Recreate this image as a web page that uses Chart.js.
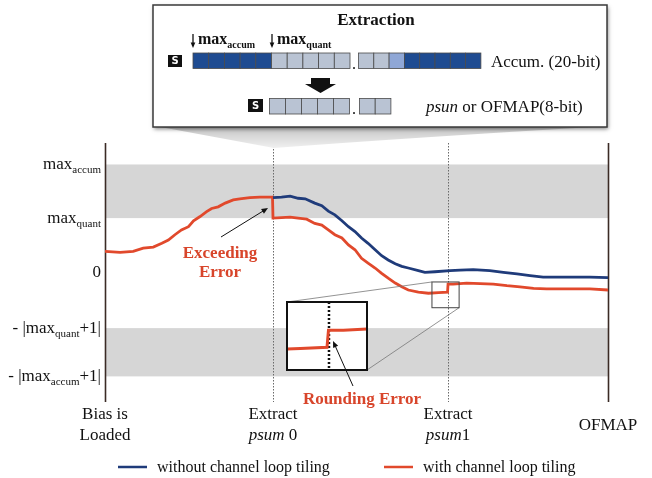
<!DOCTYPE html>
<html lang="en">
<head>
<meta charset="UTF-8">
<title>Accumulator extraction</title>
<script src="https://cdn.jsdelivr.net/npm/chart.js"></script>
<style>
  html, body { margin: 0; padding: 0; background: #fff; }
</style>
</head>
<body>
<canvas id="chart" width="652" height="478"></canvas>
<script>
// values (x: time 0..100, y: value level)
const redX = [0, 3.0, 5.6, 7.6, 9.6, 11.3, 12.6, 13.9, 15.2, 16.6, 17.6, 18.9, 20.2, 21.2, 22.5, 23.9, 25.5, 26.8, 28.8, 30.8,
              33.3, 33.4, 35.1, 36.8, 38.4, 40.1, 41.7, 43.1, 44.4, 45.7, 47.1, 48.4, 49.7, 51.0, 52.3, 53.7, 55.0, 56.3, 57.7, 59.0,
              60.3, 62.3, 64.3, 66.3, 68.1, 68.2, 69.2, 71.9, 74.6, 77.2, 79.9, 82.5, 85.2, 87.8, 90.5, 93.1, 96.4, 100];
const redY = [0.38, 0.36, 0.38, 0.44, 0.46, 0.53, 0.59, 0.69, 0.78, 0.84, 0.95, 1.03, 1.12, 1.18, 1.21, 1.28, 1.34, 1.36, 1.38, 1.39,
              1.39, 1.00, 1.01, 1.02, 1.00, 0.98, 0.90, 0.87, 0.78, 0.69, 0.63, 0.50, 0.41, 0.25, 0.16, 0.07, -0.03, -0.12, -0.21, -0.28,
              -0.34, -0.38, -0.40, -0.39, -0.38, -0.23, -0.23, -0.21, -0.22, -0.23, -0.26, -0.28, -0.31, -0.32, -0.32, -0.32, -0.32, -0.34];
const blueX = [33.4, 35.1, 36.8, 38.4, 39.8, 41.7, 43.1, 44.4, 45.7, 47.1, 48.4, 49.7, 51.0, 52.3, 53.7, 55.0, 56.3, 57.7,
               59.0, 60.3, 62.3, 63.6, 65.6, 68.6, 70.6, 73.2, 76.5, 79.2, 81.9, 84.5, 87.1, 89.8, 93.1, 96.4, 100];
const blueY = [1.38, 1.39, 1.41, 1.37, 1.36, 1.28, 1.23, 1.13, 1.06, 0.95, 0.84, 0.75, 0.63, 0.53, 0.41, 0.30, 0.22, 0.15,
               0.10, 0.07, 0.02, -0.01, 0.00, 0.02, 0.03, 0.04, 0.02, -0.01, -0.04, -0.07, -0.10, -0.10, -0.10, -0.10, -0.11];

const yTickValues = [2.0, 1.0, 0, -1.05, -1.95];
const yTickLabels = ['max_{accum}', 'max_{quant}', '0', '- |max_{quant}+1|', '- |max_{accum}+1|'];
const bands = [[1.0, 2.0], [-1.95, -1.05]];

const eventX = [0, 33.4, 68.2, 100];
const eventLabels = [['Bias is', 'Loaded'], ['Extract', '*psum* 0'], ['Extract', '*psum*1'], ['OFMAP']];

const zoomBox = [65.0, 70.4, -0.19, -0.67];     // region magnified in the inset
const insetWindow = [65.4, 70.8, 0.02, -0.58];   // what the inset shows

const SERIF = '"Liberation Serif", "Times New Roman", serif';
const RED = '#e1492c', BLUE = '#1f3b7a', RED_TEXT = '#d8452b';

function parts(s) {
    const out = [];
    const re = /_\{([^}]*)\}|\*([^*]*)\*|([^_*]+)/g;
    let m;
    while ((m = re.exec(s))) {
        if (m[1] !== undefined) out.push({ t: m[1], sub: true });
        else if (m[2] !== undefined) out.push({ t: m[2], it: true });
        else out.push({ t: m[3] });
    }
    return out;
}

function rich(ctx, s, x, y, align, size, bold) {
    const segs = parts(s);
    const fontFor = seg => (seg.it ? 'italic ' : '') + (bold ? 'bold ' : '') +
        (seg.sub ? Math.round(size * 0.64) : size) + 'px ' + SERIF;
    let w = 0;
    segs.forEach(seg => { ctx.font = fontFor(seg); seg.w = ctx.measureText(seg.t).width; w += seg.w; });
    let cx = align === 'right' ? x - w : align === 'center' ? x - w / 2 : x;
    ctx.textAlign = 'left';
    ctx.textBaseline = 'alphabetic';
    segs.forEach(seg => {
        ctx.font = fontFor(seg);
        ctx.fillText(seg.t, cx, seg.sub ? y + 3.5 : y);
        cx += seg.w;
    });
}

function arrow(ctx, x1, y1, x2, y2, head, width) {
    const a = Math.atan2(y2 - y1, x2 - x1);
    ctx.beginPath();
    ctx.moveTo(x1, y1);
    ctx.lineTo(x2 - Math.cos(a) * head * 0.8, y2 - Math.sin(a) * head * 0.8);
    ctx.lineWidth = width;
    ctx.stroke();
    ctx.beginPath();
    ctx.moveTo(x2, y2);
    ctx.lineTo(x2 - head * Math.cos(a - 0.4), y2 - head * Math.sin(a - 0.4));
    ctx.lineTo(x2 - head * Math.cos(a + 0.4), y2 - head * Math.sin(a + 0.4));
    ctx.closePath();
    ctx.fill();
}

function drawExtractionBox(ctx) {
    // cone shading from the box down to the first extraction
    ctx.save();
    const g = ctx.createLinearGradient(0, 126, 0, 150);
    g.addColorStop(0, '#c4c4c4');
    g.addColorStop(1, '#f4f4f4');
    ctx.fillStyle = g;
    ctx.beginPath();
    ctx.moveTo(155, 126);
    ctx.lineTo(610, 126);
    ctx.quadraticCurveTo(420, 137, 274, 148);
    ctx.closePath();
    ctx.fill();
    ctx.restore();

    ctx.save();
    ctx.shadowColor = 'rgba(0,0,0,0.5)';
    ctx.shadowBlur = 4;
    ctx.shadowOffsetX = 1;
    ctx.shadowOffsetY = 2;
    ctx.fillStyle = '#fff';
    ctx.fillRect(153, 5, 454, 122);
    ctx.restore();
    ctx.strokeStyle = '#3a3a3a';
    ctx.lineWidth = 1.5;
    ctx.strokeRect(153, 5, 454, 122);

    ctx.fillStyle = '#111';
    ctx.font = 'bold 17px ' + SERIF;
    ctx.textAlign = 'center';
    ctx.textBaseline = 'alphabetic';
    ctx.fillText('Extraction', 376, 25);

    ctx.strokeStyle = '#111';
    arrow(ctx, 193, 34, 193, 48, 6, 1.3);
    arrow(ctx, 272, 34, 272, 48, 6, 1.3);
    rich(ctx, 'max_{accum}', 198, 44, 'left', 16, true);
    rich(ctx, 'max_{quant}', 277, 44, 'left', 16, true);

    const dark = '#1e4b91', light = '#b9c3d3', mid = '#8fa7d6';
    const sBox = (x, y, s) => {
        ctx.fillStyle = '#111';
        ctx.fillRect(x, y, s, s - 2);
        ctx.fillStyle = '#fff';
        ctx.font = 'bold 10px "DejaVu Sans", sans-serif';
        ctx.textAlign = 'center';
        ctx.textBaseline = 'middle';
        ctx.fillText('S', x + s / 2, y + (s - 2) / 2 + 0.5);
    };
    const cells = (x0, y, w, h, colors) => {
        colors.forEach((c, i) => {
            ctx.fillStyle = c;
            ctx.fillRect(x0 + i * w, y, w, h);
            ctx.strokeStyle = '#4a4a4a';
            ctx.lineWidth = 0.8;
            ctx.strokeRect(x0 + i * w, y, w, h);
        });
    };
    const dot = (x, y) => {
        ctx.fillStyle = '#111';
        ctx.font = '16px ' + SERIF;
        ctx.textAlign = 'center';
        ctx.textBaseline = 'alphabetic';
        ctx.fillText('.', x, y);
    };

    // accumulator row
    sBox(168, 55, 14);
    cells(193, 53, 15.7, 15.5, [dark, dark, dark, dark, dark, light, light, light, light, light]);
    dot(354, 69);
    cells(358.5, 53, 15.3, 15.5, [light, light, mid, dark, dark, dark, dark, dark]);
    ctx.fillStyle = '#111';
    ctx.font = '17px ' + SERIF;
    ctx.textAlign = 'left';
    ctx.textBaseline = 'alphabetic';
    ctx.fillText('Accum. (20-bit)', 491, 67);

    // big arrow
    ctx.fillStyle = '#111';
    ctx.beginPath();
    ctx.moveTo(311, 78); ctx.lineTo(330, 78); ctx.lineTo(330, 84); ctx.lineTo(336, 84);
    ctx.lineTo(320.5, 93); ctx.lineTo(305, 84); ctx.lineTo(311, 84);
    ctx.closePath();
    ctx.fill();

    // output row
    sBox(248, 99, 15);
    cells(269.5, 98.5, 16, 15.5, [light, light, light, light, light]);
    dot(354, 114);
    cells(359.5, 98.5, 15.7, 15.5, [light, light]);
    ctx.fillStyle = '#111';
    rich(ctx, '*psun* or OFMAP(8-bit)', 426, 112, 'left', 17, false);
}

const figurePlugin = {
    id: 'figure',
    beforeDatasetsDraw(chart) {
        const { ctx, chartArea: ca, scales: { x, y } } = chart;
        ctx.save();
        ctx.fillStyle = '#d6d6d6';
        bands.forEach(([lo, hi]) => {
            const t = y.getPixelForValue(hi), b = y.getPixelForValue(lo);
            ctx.fillRect(ca.left, t, ca.right - ca.left, b - t);
        });
        eventX.forEach((v, i) => {
            const px = Math.round(x.getPixelForValue(v)) + 0.5;
            ctx.beginPath();
            ctx.moveTo(px, ca.top);
            ctx.lineTo(px, ca.bottom + 2);
            if (i === 0 || i === eventX.length - 1) {
                ctx.setLineDash([]);
                ctx.strokeStyle = '#3b2b25';
                ctx.lineWidth = 1.6;
            } else {
                ctx.setLineDash([1.5, 1.5]);
                ctx.strokeStyle = '#6a6a6a';
                ctx.lineWidth = 1;
            }
            ctx.stroke();
        });
        ctx.restore();
    },
    afterDatasetsDraw(chart) {
        const { ctx, scales: { x, y } } = chart;
        ctx.save();

        // y level labels
        ctx.fillStyle = '#111';
        yTickValues.forEach((v, i) => rich(ctx, yTickLabels[i], 101, y.getPixelForValue(v) + 5, 'right', 17, false));

        // event labels under the axis
        eventLabels.forEach((lines, i) => {
            const px = x.getPixelForValue(eventX[i]);
            const top = lines.length === 1 ? 430 : 419;
            lines.forEach((s, j) => rich(ctx, s, px, top + j * 21, 'center', 17, false));
        });

        // zoom box and its inset
        const bx0 = x.getPixelForValue(zoomBox[0]), bx1 = x.getPixelForValue(zoomBox[1]);
        const by0 = y.getPixelForValue(zoomBox[2]), by1 = y.getPixelForValue(zoomBox[3]);
        const ins = { l: 287, t: 302, r: 367, b: 370 };
        ctx.strokeStyle = '#777';
        ctx.lineWidth = 0.8;
        ctx.beginPath();
        ctx.moveTo(bx0, by0); ctx.lineTo(ins.l, ins.t);
        ctx.moveTo(bx1, by1); ctx.lineTo(ins.r, ins.b);
        ctx.stroke();
        ctx.strokeStyle = '#444';
        ctx.lineWidth = 1;
        ctx.strokeRect(bx0, by0, bx1 - bx0, by1 - by0);

        ctx.fillStyle = '#fff';
        ctx.fillRect(ins.l, ins.t, ins.r - ins.l, ins.b - ins.t);
        ctx.save();
        ctx.beginPath();
        ctx.rect(ins.l, ins.t, ins.r - ins.l, ins.b - ins.t);
        ctx.clip();
        const [wx0, wx1, wy0, wy1] = insetWindow;
        const mx = v => ins.l + (v - wx0) / (wx1 - wx0) * (ins.r - ins.l);
        const my = v => ins.t + (wy0 - v) / (wy0 - wy1) * (ins.b - ins.t);
        ctx.strokeStyle = '#111';
        ctx.lineWidth = 2.5;
        ctx.setLineDash([2, 2]);
        ctx.beginPath();
        ctx.moveTo(mx(eventX[2]) + 0.5, ins.t);
        ctx.lineTo(mx(eventX[2]) + 0.5, ins.b);
        ctx.stroke();
        ctx.setLineDash([]);
        ctx.strokeStyle = RED;
        ctx.lineWidth = 3;
        ctx.beginPath();
        redX.forEach((v, i) => { if (i === 0) ctx.moveTo(mx(v), my(redY[i])); else ctx.lineTo(mx(v), my(redY[i])); });
        ctx.stroke();
        ctx.restore();
        ctx.strokeStyle = '#111';
        ctx.lineWidth = 2;
        ctx.strokeRect(ins.l, ins.t, ins.r - ins.l, ins.b - ins.t);

        // annotations
        ctx.fillStyle = '#111';
        ctx.strokeStyle = '#111';
        arrow(ctx, 221, 237, 268, 208, 7, 1);
        arrow(ctx, 353, 386, 333, 341, 7, 1);
        ctx.fillStyle = RED_TEXT;
        ctx.font = 'bold 17px ' + SERIF;
        ctx.textAlign = 'center';
        ctx.textBaseline = 'alphabetic';
        ctx.fillText('Exceeding', 220, 258);
        ctx.fillText('Error', 220, 277);
        ctx.fillText('Rounding Error', 362, 404);

        drawExtractionBox(ctx);

        // legend
        chart.data.datasets.forEach((ds, i) => {
            const sx = i === 0 ? 118 : 384;
            ctx.strokeStyle = ds.borderColor;
            ctx.lineWidth = 2.5;
            ctx.beginPath();
            ctx.moveTo(sx, 467);
            ctx.lineTo(sx + 29, 467);
            ctx.stroke();
            ctx.fillStyle = '#111';
            ctx.font = '16px ' + SERIF;
            ctx.textAlign = 'left';
            ctx.fillText(ds.label, sx + 39, 472);
        });
        ctx.restore();
    }
};

new Chart(document.getElementById('chart'), {
    type: 'line',
    data: {
        datasets: [
            { label: 'without channel loop tiling', data: blueX.map((v, i) => ({ x: v, y: blueY[i] })),
              borderColor: BLUE, borderWidth: 2.8, pointRadius: 0, tension: 0, fill: false },
            { label: 'with channel loop tiling', data: redX.map((v, i) => ({ x: v, y: redY[i] })),
              borderColor: RED, borderWidth: 2.8, pointRadius: 0, tension: 0, fill: false }
        ]
    },
    options: {
        responsive: false,
        animation: false,
        layout: { padding: { left: 105, right: 44, top: 143, bottom: 78 } },
        scales: {
            x: { type: 'linear', min: 0, max: 100, display: false },
            y: { type: 'linear', min: -2.39, max: 2.4, display: false }
        },
        plugins: { legend: { display: false }, tooltip: { enabled: false } }
    },
    plugins: [figurePlugin]
});
</script>
</body>
</html>
